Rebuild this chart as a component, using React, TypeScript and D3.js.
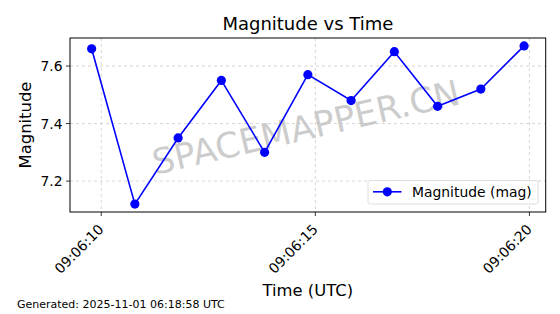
import React from "react";
import * as d3 from "d3";

const times = [
  "09:06:09.775", "09:06:10.785", "09:06:11.795", "09:06:12.805", "09:06:13.815",
  "09:06:14.825", "09:06:15.835", "09:06:16.845", "09:06:17.855", "09:06:18.865", "09:06:19.875",
];
const magnitudes = [7.66, 7.12, 7.35, 7.55, 7.30, 7.57, 7.48, 7.65, 7.46, 7.52, 7.67];
const xTickLabels = ["09:06:10", "09:06:15", "09:06:20"];
const yTicks = [7.2, 7.4, 7.6];

const toSec = (s: string) => {
  const [h, m, sec] = s.split(":");
  return +h * 3600 + +m * 60 + parseFloat(sec);
};

export default function App() {
  const W = 560, H = 314;
  const L = 70, R = 545.7, T = 38, B = 212;
  const xs = times.map(toSec);
  const [x0, x1] = d3.extent(xs) as [number, number];
  const xm = (x1 - x0) * 0.05;
  const x = d3.scaleLinear().domain([x0 - xm, x1 + xm]).range([L, R]);
  const [y0, y1] = d3.extent(magnitudes) as [number, number];
  const ym = (y1 - y0) * 0.05;
  const y = d3.scaleLinear().domain([y0 - ym, y1 + ym]).range([B, T]);
  const line = d3.line<number>().x((_, i) => x(xs[i])).y((d) => y(d));
  const font = "'DejaVu Sans', sans-serif";
  const grid = "#cccccc";
  const tickFs = 13.9;
  return (
    <svg width={W} height={H} style={{ position: "absolute", left: 0, top: 0, fontFamily: font }}>
      <rect width={W} height={H} fill="white" />
      <text x={(L + R) / 2} y={29.5} textAnchor="middle" fontSize={18} fill="#000">Magnitude vs Time</text>
      {xTickLabels.map((t) => {
        const px = x(toSec(t));
        return (
          <g key={t}>
            <line x1={px} x2={px} y1={T} y2={B} stroke={grid} strokeDasharray="3,3" strokeWidth={0.8} />
            <line x1={px} x2={px} y1={B} y2={B + 4} stroke="#000" strokeWidth={0.8} />
            <text transform={`translate(${px - 6},${B + 9}) rotate(-45)`} textAnchor="end" dy="0.95em" fontSize={tickFs} fill="#000">{t}</text>
          </g>
        );
      })}
      {yTicks.map((t) => {
        const py = y(t);
        return (
          <g key={t}>
            <line x1={L} x2={R} y1={py} y2={py} stroke={grid} strokeDasharray="3,3" strokeWidth={0.8} />
            <line x1={L - 4} x2={L} y1={py} y2={py} stroke="#000" strokeWidth={0.8} />
            <text x={L - 7.5} y={py} textAnchor="end" dy="0.36em" fontSize={tickFs} fill="#000">{t.toFixed(1)}</text>
          </g>
        );
      })}
      <text
        transform={`translate(${(L + R) / 2 - 2},${(T + B) / 2 + 2}) rotate(-13)`}
        textAnchor="middle" dy="0.36em" fontSize={35} fill="#bcbcbc" fillOpacity={0.75}
      >SPACEMAPPER.CN</text>
      <path d={line(magnitudes) || ""} fill="none" stroke="#0000ff" strokeWidth={1.6} />
      {magnitudes.map((m, i) => (
        <circle key={i} cx={x(xs[i])} cy={y(m)} r={4.6} fill="#0000ff" />
      ))}
      <rect x={L} y={T} width={R - L} height={B - T} fill="none" stroke="#000" strokeWidth={1} />
      <text transform={`translate(30.5,${(T + B) / 2}) rotate(-90)`} textAnchor="middle" fontSize={16.4} fill="#000">Magnitude</text>
      <text x={(L + R) / 2} y={295.5} textAnchor="middle" fontSize={16.4} fill="#000">Time (UTC)</text>
      <text x={17} y={308} fontSize={11} fill="#000">Generated: 2025-11-01 06:18:58 UTC</text>
      <g>
        <rect x={368} y={180.5} width={170} height={23.5} rx={2} fill="white" fillOpacity={0.8} stroke="#d5d5d5" strokeWidth={0.8} />
        <line x1={373} x2={401.5} y1={191.8} y2={191.8} stroke="#0000ff" strokeWidth={1.6} />
        <circle cx={387.3} cy={191.8} r={4.6} fill="#0000ff" />
        <text x={412} y={191.8} dy="0.36em" fontSize={tickFs} fill="#000">Magnitude (mag)</text>
      </g>
    </svg>
  );
}
